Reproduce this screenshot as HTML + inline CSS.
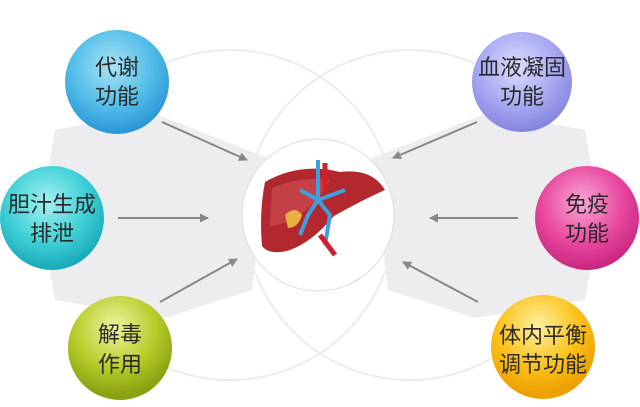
<!DOCTYPE html>
<html><head><meta charset="utf-8"><style>
html,body{margin:0;padding:0;background:#fff;}
svg text{font-family:"Liberation Sans","Noto Sans CJK SC",sans-serif;font-size:22px;fill:#2a2a2a;text-anchor:middle;}
</style></head><body>
<svg width="640" height="402" viewBox="0 0 640 402" xmlns="http://www.w3.org/2000/svg">
<defs>
<radialGradient id="gb" cx="45%" cy="35%" r="65%"><stop offset="0" stop-color="#a9e3f7"/><stop offset="0.6" stop-color="#52bde8"/><stop offset="1" stop-color="#2a95d6"/></radialGradient>
<radialGradient id="gc" cx="45%" cy="35%" r="65%"><stop offset="0" stop-color="#a5f0f0"/><stop offset="0.6" stop-color="#3fd0d6"/><stop offset="1" stop-color="#17a9b8"/></radialGradient>
<radialGradient id="gg" cx="45%" cy="30%" r="65%"><stop offset="0" stop-color="#eef5a0"/><stop offset="0.6" stop-color="#b8cc2a"/><stop offset="1" stop-color="#8aa312"/></radialGradient>
<radialGradient id="gp" cx="45%" cy="35%" r="65%"><stop offset="0" stop-color="#dcdcff"/><stop offset="0.6" stop-color="#a8a8f2"/><stop offset="1" stop-color="#8484e0"/></radialGradient>
<radialGradient id="gm" cx="45%" cy="35%" r="65%"><stop offset="0" stop-color="#f7a8d4"/><stop offset="0.6" stop-color="#e8489e"/><stop offset="1" stop-color="#c92680"/></radialGradient>
<radialGradient id="go" cx="45%" cy="30%" r="65%"><stop offset="0" stop-color="#fff0a0"/><stop offset="0.6" stop-color="#fbc21a"/><stop offset="1" stop-color="#eea000"/></radialGradient>
<marker id="ar" markerWidth="9" markerHeight="9" refX="8" refY="4.5" orient="auto" markerUnits="userSpaceOnUse"><path d="M0,0 L9,4.5 L0,9 z" fill="#888"/></marker>
</defs>
<circle cx="230" cy="215" r="165" fill="none" stroke="#ececec" stroke-width="2"/>
<circle cx="410" cy="215" r="165" fill="none" stroke="#ececec" stroke-width="2"/>
<polygon points="55,130 150,112 268,158 252,290 165,318 55,300 40,215" fill="#ededf0"/>
<polygon points="585,130 490,112 372,158 388,290 475,318 585,300 600,215" fill="#ededf0"/>
<circle cx="318" cy="215" r="76" fill="#fff" stroke="#dcdcdc" stroke-width="1"/>
<!-- liver -->
<path d="M265,182 Q300,162 340,172 Q372,168 385,190 Q362,200 334,216 Q312,242 290,250 Q270,256 262,246 Q259,212 265,182 z" fill="#b3282e"/>
<path d="M272,188 Q300,176 330,180 Q320,200 300,215 Q285,225 270,226 z" fill="#cc4a52" opacity="0.7"/>
<path d="M318,160 L318,200 L308,215 L300,235 M318,200 L330,215 L325,245 M300,190 L318,200 L345,190" stroke="#3aa0e0" stroke-width="4" fill="none"/>
<path d="M325,163 L325,190 M320,235 L335,255" stroke="#d02030" stroke-width="5" fill="none"/>
<path d="M285,215 Q295,205 302,215 Q298,228 288,228 z" fill="#e8b040"/>
<!-- arrows -->
<g stroke="#888" stroke-width="2" marker-end="url(#ar)">
<line x1="162" y1="122" x2="247" y2="160"/>
<line x1="118" y1="218" x2="208" y2="218"/>
<line x1="160" y1="302" x2="237" y2="259"/>
<line x1="477" y1="122" x2="393" y2="158"/>
<line x1="518" y1="218" x2="430" y2="218"/>
<line x1="478" y1="302" x2="403" y2="262"/>
</g>
<!-- nodes -->
<circle cx="117" cy="82" r="52" fill="url(#gb)"/>
<text x="117" y="75">代谢</text><text x="117" y="104">功能</text>
<circle cx="52" cy="218" r="52" fill="url(#gc)"/>
<text x="52" y="212">胆汁生成</text><text x="52" y="241">排泄</text>
<circle cx="120" cy="348" r="52" fill="url(#gg)"/>
<text x="120" y="342">解毒</text><text x="120" y="372">作用</text>
<circle cx="522" cy="82" r="50" fill="url(#gp)"/>
<text x="522" y="75">血液凝固</text><text x="522" y="104">功能</text>
<circle cx="587" cy="218" r="52" fill="url(#gm)"/>
<text x="587" y="212">免疫</text><text x="587" y="241">功能</text>
<circle cx="543" cy="347" r="52" fill="url(#go)"/>
<text x="543" y="343">体内平衡</text><text x="543" y="372">调节功能</text>
</svg>
</body></html>
